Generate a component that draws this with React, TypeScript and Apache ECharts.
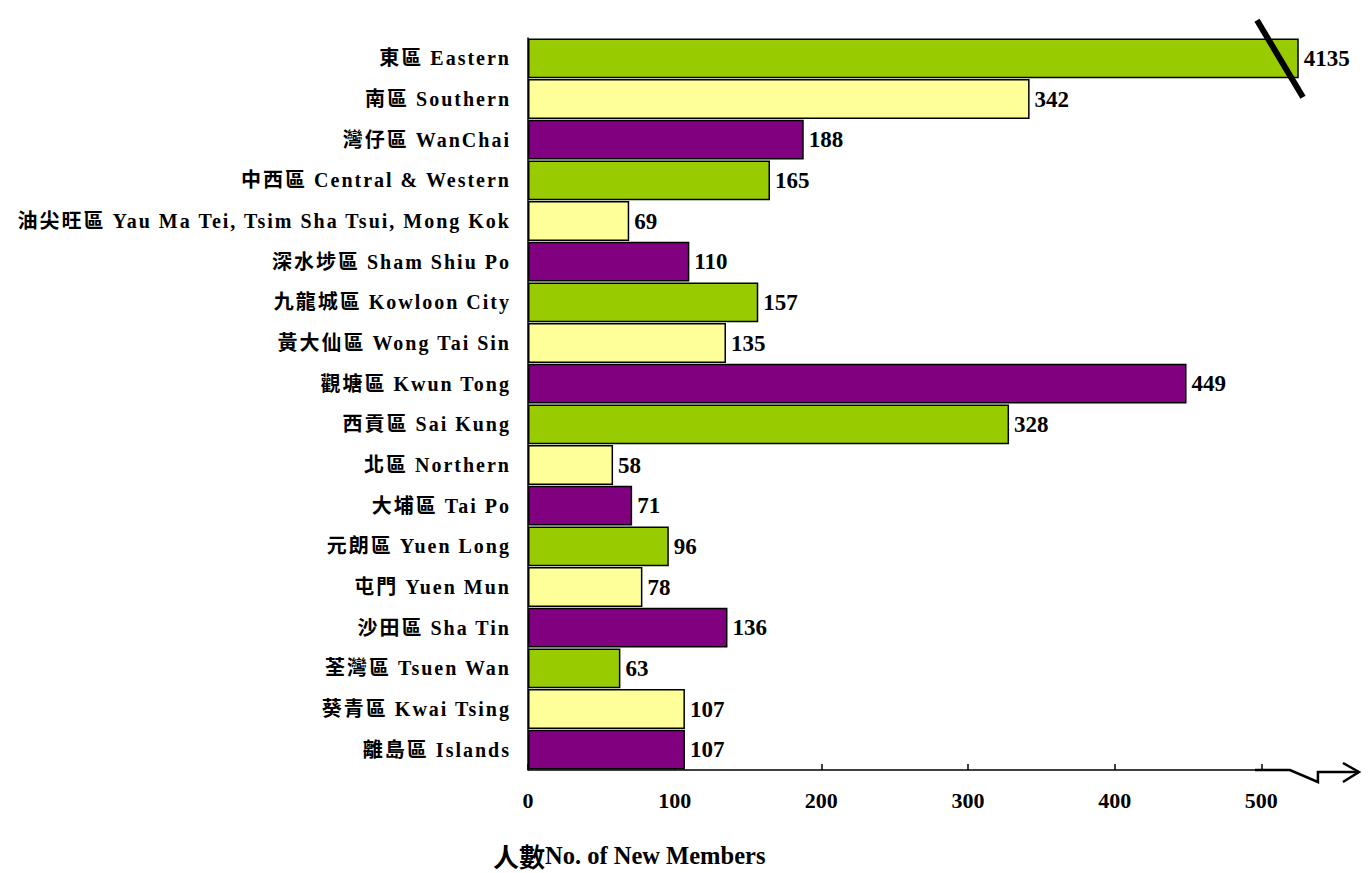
import React, { useEffect, useRef } from "react";
import * as echarts from "echarts";

// District names (Chinese + English), top to bottom
const categories: string[] = [
  "東區 Eastern",
  "南區 Southern",
  "灣仔區 WanChai",
  "中西區 Central & Western",
  "油尖旺區 Yau Ma Tei, Tsim Sha Tsui, Mong Kok",
  "深水埗區 Sham Shiu Po",
  "九龍城區 Kowloon City",
  "黃大仙區 Wong Tai Sin",
  "觀塘區 Kwun Tong",
  "西貢區 Sai Kung",
  "北區 Northern",
  "大埔區 Tai Po",
  "元朗區 Yuen Long",
  "屯門 Yuen Mun",
  "沙田區 Sha Tin",
  "荃灣區 Tsuen Wan",
  "葵青區 Kwai Tsing",
  "離島區 Islands",
];

// New members per district
const newMembers: number[] = [
  4135, 342, 188, 165, 69, 110, 157, 135, 449, 328, 58, 71, 96, 78, 136, 63, 107, 107,
];

// Axis ticks / labels
const tickValues: number[] = [0, 100, 200, 300, 400, 500];
const axisMax = 525; // the axis is broken beyond this point
const axisBreakAt = 519.5;

const palette: string[] = ["#99CC00", "#FFFF99", "#800080"];

const FONT = "'Liberation Serif', 'Noto Sans CJK TC', serif";
const CJK = "'Noto Sans CJK TC', sans-serif";

// Category labels are right-aligned (text-anchor end) and slightly spaced out
const labelCss = `.members-chart svg text[text-anchor="end"] { letter-spacing: 2px; }`;

export default function App() {
  const ref = useRef<HTMLDivElement>(null);

  useEffect(() => {
    if (!ref.current) return;
    const chart = echarts.init(ref.current, null, { renderer: "svg" });

    chart.setOption({
      animation: false,
      backgroundColor: "#ffffff",
      grid: {
        left: 528,
        top: 38,
        width: 770,
        height: 732,
        containLabel: false,
      },
      xAxis: {
        type: "value",
        min: 0,
        max: axisMax,
        interval: 100,
        splitLine: { show: false },
        axisLine: { show: false },
        axisTick: {
          show: true,
          inside: true,
          length: 6,
          customValues: tickValues,
          lineStyle: { color: "#000", width: 1.5 },
        },
        axisLabel: {
          customValues: tickValues,
          margin: 19,
          color: "#000",
          fontWeight: "bold",
          fontSize: 22,
          fontFamily: FONT,
        },
      },
      yAxis: {
        type: "category",
        inverse: true,
        data: categories,
        axisLine: { show: true, lineStyle: { color: "#000", width: 1.5 } },
        axisTick: { show: false },
        axisLabel: {
          margin: 17,
          color: "#000",
          fontWeight: "bold",
          fontSize: 20,
          fontFamily: FONT,
        },
      },
      series: [
        {
          type: "bar",
          clip: true,
          barCategoryGap: "2%",
          data: newMembers.map((v, i) => ({
            value: v,
            itemStyle: {
              color: palette[i % palette.length],
              borderColor: "#000",
              borderWidth: 1.5,
            },
          })),
          label: {
            show: true,
            position: "right",
            distance: 5,
            color: "#000",
            fontWeight: "bold",
            fontSize: 23,
            fontFamily: FONT,
          },
        },
      ],
    });

    // Axis line with break symbol and arrow, plus the break slash on the top bar
    const px = (v: number) => chart.convertToPixel({ xAxisIndex: 0 }, v) as number;
    const py = (i: number) => chart.convertToPixel({ yAxisIndex: 0 }, i) as number;
    const x0 = px(0);
    const xb = px(axisBreakAt);
    const xEnd = px(axisMax);
    const band = py(1) - py(0);
    const yAxisLine = py(categories.length - 1) + band / 2;
    const yTop = py(0);

    chart.setOption({
      graphic: [
        {
          type: "polyline",
          shape: {
            points: [
              [x0, yAxisLine],
              [xb, yAxisLine],
            ],
          },
          style: { stroke: "#000", lineWidth: 1.5, fill: null },
          z: 10,
        },
        {
          type: "polyline",
          shape: {
            points: [
              [xb - 35, yAxisLine],
              [xb, yAxisLine],
              [xb + 28, yAxisLine + 12],
              [xb + 28, yAxisLine + 2],
              [xb + 69, yAxisLine + 2],
            ],
          },
          style: { stroke: "#000", lineWidth: 2.5, fill: null },
          z: 10,
        },
        {
          type: "polyline",
          shape: {
            points: [
              [xb + 53, yAxisLine - 7],
              [xb + 69, yAxisLine + 2],
              [xb + 53, yAxisLine + 12],
            ],
          },
          style: { stroke: "#000", lineWidth: 2.5, fill: null },
          z: 10,
        },
        {
          type: "line",
          shape: {
            x1: xEnd - 41,
            y1: yTop - 38,
            x2: xEnd + 5,
            y2: yTop + 39,
          },
          style: { stroke: "#000", lineWidth: 6 },
          z: 10,
        },
        {
          type: "text",
          left: 493,
          top: 842,
          style: {
            text: "{c|人數}{e|No. of New Members}",
            fill: "#000",
            rich: {
              c: { fontFamily: CJK, fontWeight: "bold", fontSize: 26, fill: "#000" },
              e: { fontFamily: FONT, fontWeight: "bold", fontSize: 24.5, fill: "#000" },
            },
          },
        },
      ],
    });

    return () => chart.dispose();
  }, []);

  return (
    <div className="members-chart">
      <style>{labelCss}</style>
      <div
        ref={ref}
        style={{ position: "fixed", left: 0, top: 0, width: 1371, height: 873 }}
      />
    </div>
  );
}
